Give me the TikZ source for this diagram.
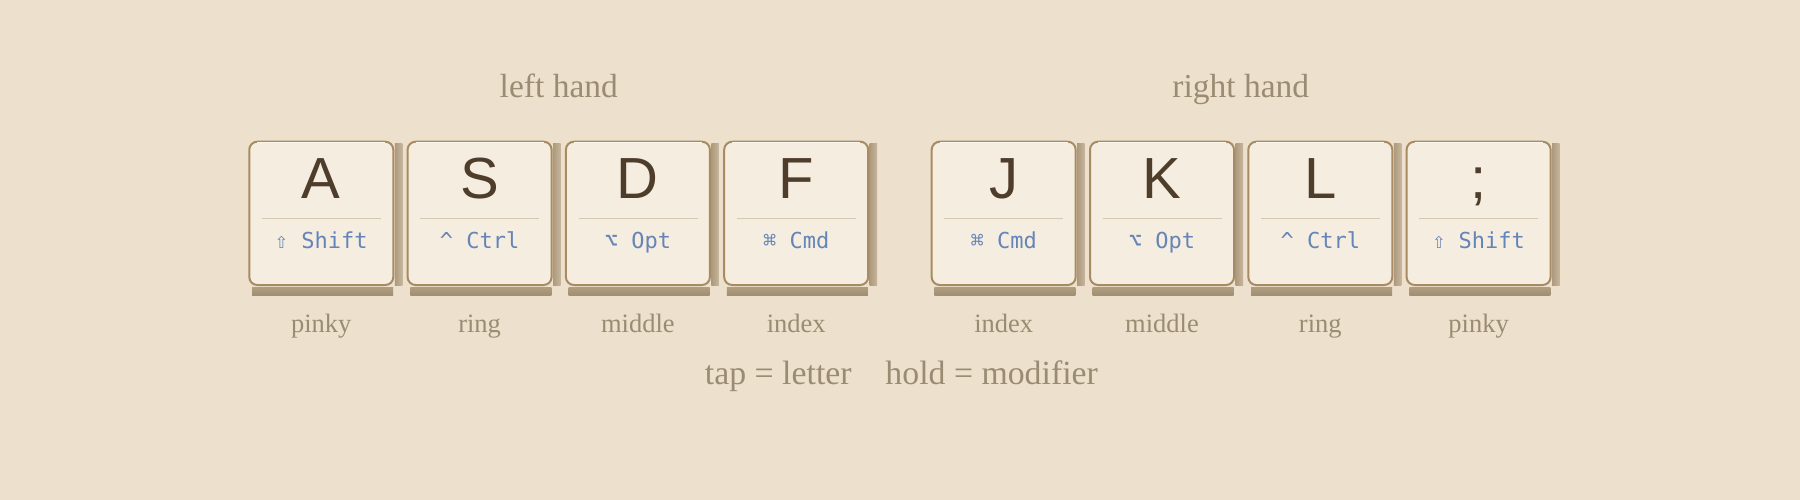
\documentclass[tikz,border=0pt]{standalone}
\usepackage{fontspec}
\setmainfont{Liberation Serif}
\newfontfamily\keyfont{Liberation Sans}
\newfontfamily\modfont{DejaVu Sans Mono}
\definecolor{bg}{HTML}{EDE0CD}
\definecolor{keyfill}{HTML}{F5EDE0}
\definecolor{keyedge}{HTML}{A88B62}
\definecolor{keyhi}{HTML}{FBF7EF}
\definecolor{shRa}{HTML}{AD9A7E}
\definecolor{shRb}{HTML}{C6B69D}
\definecolor{shBa}{HTML}{B09E82}
\definecolor{shBb}{HTML}{A39073}
\definecolor{lettercol}{HTML}{4F3D2B}
\definecolor{modcol}{HTML}{6584B7}
\definecolor{labelcol}{HTML}{9B8B73}
\definecolor{divcol}{HTML}{D6C7B0}
\tikzset{
  keybox/.style={draw=keyedge, line width=2pt, fill=keyfill, rounded corners=8pt,
    minimum width=144pt, minimum height=143.3pt, inner sep=0pt},
  lettertext/.style={anchor=base, inner sep=0pt, text=lettercol,
    font=\keyfont\fontsize{58}{60}\selectfont},
  modtext/.style={anchor=base, inner sep=0pt, text=modcol,
    font=\modfont\fontsize{22}{24}\selectfont},
  fingertext/.style={anchor=base, inner sep=0pt, text=labelcol,
    font=\fontsize{26.5}{28}\selectfont},
  handtext/.style={anchor=base, inner sep=0pt, text=labelcol,
    font=\fontsize{33.5}{36}\selectfont},
  legendtext/.style={anchor=base, inner sep=0pt, text=labelcol,
    font=\fontsize{33.8}{36}\selectfont},
  divider/.style={draw=divcol, line width=1pt},
  highlight/.style={draw=keyhi, line width=1.5pt}
}
\newcommand\keycap[5]{%
  \shade[left color=shRa, right color=shRb] (#2+146.5,144) rectangle (#2+154,285);
  \shade[top color=shBa, bottom color=shBb] (#2+3.7,287) rectangle (#2+144.7,295);
  \node[keybox] (#1) at (#2+73,213.35) {};
  \draw[highlight] (#2+9,142.6) -- (#2+137,142.6);
  \node[lettertext] (#1-letter) at (#2+73,199) {#3};
  \draw[divider] (#2+13.7,218.3) -- (#2+132.7,218.3);
  \node[modtext] (#1-mod) at (#2+73,248.3) {#4};
  \node[fingertext] (#1-finger) at (#2+73,332.3) {#5};
}
\begin{document}
\begin{tikzpicture}[x=1pt,y=-1pt]
\useasboundingbox[fill=bg] (0,0) rectangle (1800,500);
\node[handtext] (lefthand) at (558.8,97.5) {left hand};
\node[handtext] (righthand) at (1240.8,97.5) {right hand};
\keycap{kA}{248.3}{A}{⇧ Shift}{pinky}
\keycap{kS}{406.6}{S}{\textasciicircum{} Ctrl}{ring}
\keycap{kD}{564.9}{D}{⌥ Opt}{middle}
\keycap{kF}{723.2}{F}{⌘ Cmd}{index}
\keycap{kJ}{930.7}{J}{⌘ Cmd}{index}
\keycap{kK}{1089.0}{K}{⌥ Opt}{middle}
\keycap{kL}{1247.3}{L}{\textasciicircum{} Ctrl}{ring}
\keycap{kSemi}{1405.6}{;}{⇧ Shift}{pinky}
\node[legendtext] (tap) at (778.3,384.5) {tap = letter};
\node[legendtext] (hold) at (991.7,384.5) {hold = modifier};
\end{tikzpicture}
\end{document}
